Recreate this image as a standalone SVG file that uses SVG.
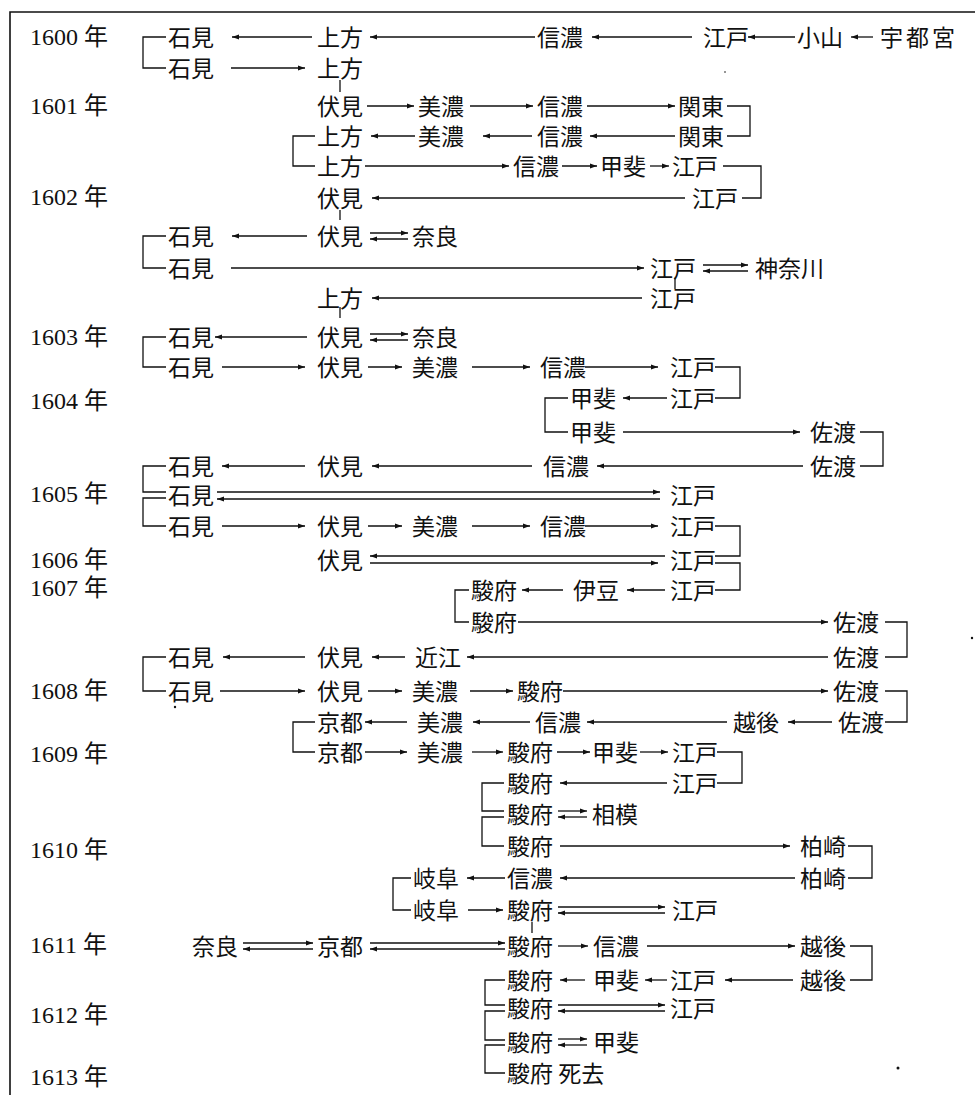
<svg xmlns="http://www.w3.org/2000/svg" width="975" height="1095" viewBox="0 0 975 1095">
<style>
text{font-family:"Noto Sans CJK JP",sans-serif;font-size:23px;fill:#111}
.y text{font-family:"Liberation Serif","Noto Sans CJK JP",serif;font-size:24px}
.c line,.c path{stroke:#111;stroke-width:1.3;fill:none}
.c .a{marker-end:url(#h)}
</style>
<defs><marker id="h" markerUnits="userSpaceOnUse" markerWidth="8" markerHeight="6" refX="7" refY="3" orient="auto"><path d="M0,0.6 L7,3 L0,5.4z" fill="#111"/></marker></defs>
<rect width="975" height="1095" fill="#fff"/>
<path d="M10,1095 V12 H975" stroke="#111" stroke-width="1.6" fill="none"/>
<g class="y" id="years">
<text x="30" y="45">1600 年</text><text x="30" y="114">1601 年</text><text x="30" y="205">1602 年</text><text x="30" y="345">1603 年</text><text x="30" y="409">1604 年</text><text x="30" y="502">1605 年</text><text x="30" y="568">1606 年</text><text x="30" y="596">1607 年</text><text x="30" y="699">1608 年</text><text x="30" y="762">1609 年</text><text x="30" y="858">1610 年</text><text x="30" y="953">1611 年</text><text x="30" y="1023">1612 年</text><text x="30" y="1085">1613 年</text>
</g>
<g id="nodes">
<g id="n1a"><text x="168" y="46">石見</text></g><g id="n1b"><text x="317" y="46">上方</text></g><g id="n1c"><text x="537" y="46">信濃</text></g><g id="n1d"><text x="703" y="46">江戸</text></g><g id="n1e"><text x="797" y="46">小山</text></g><g id="n1f"><text x="880" y="46" letter-spacing="3">宇都宮</text></g>
<g id="n2a"><text x="168" y="77">石見</text></g><g id="n2b"><text x="317" y="77">上方</text></g>
<g id="n3a"><text x="317" y="115">伏見</text></g><g id="n3b"><text x="418" y="115">美濃</text></g><g id="n3c"><text x="537" y="115">信濃</text></g><g id="n3d"><text x="678" y="115">関東</text></g>
<g id="n4a"><text x="317" y="145">上方</text></g><g id="n4b"><text x="418" y="145">美濃</text></g><g id="n4c"><text x="537" y="145">信濃</text></g><g id="n4d"><text x="678" y="145">関東</text></g>
<g id="n5a"><text x="317" y="175">上方</text></g><g id="n5b"><text x="513" y="175">信濃</text></g><g id="n5c"><text x="600" y="175">甲斐</text></g><g id="n5d"><text x="672" y="175">江戸</text></g>
<g id="n6a"><text x="317" y="207">伏見</text></g><g id="n6b"><text x="692" y="207">江戸</text></g>
<g id="n7a"><text x="168" y="245">石見</text></g><g id="n7b"><text x="317" y="245">伏見</text></g><g id="n7c"><text x="412" y="245">奈良</text></g>
<g id="n8a"><text x="168" y="277">石見</text></g><g id="n8b"><text x="650" y="277">江戸</text></g><g id="n8c"><text x="755" y="277">神奈川</text></g>
<g id="n9a"><text x="317" y="307">上方</text></g><g id="n9b"><text x="650" y="307">江戸</text></g>
<g id="n10a"><text x="168" y="346">石見</text></g><g id="n10b"><text x="317" y="346">伏見</text></g><g id="n10c"><text x="412" y="346">奈良</text></g>
<g id="n11a"><text x="168" y="376">石見</text></g><g id="n11b"><text x="317" y="376">伏見</text></g><g id="n11c"><text x="412" y="376">美濃</text></g><g id="n11d"><text x="540" y="376">信濃</text></g><g id="n11e"><text x="670" y="376">江戸</text></g>
<g id="n12a"><text x="570" y="407">甲斐</text></g><g id="n12b"><text x="670" y="407">江戸</text></g>
<g id="n13a"><text x="570" y="441">甲斐</text></g><g id="n13b"><text x="810" y="441">佐渡</text></g>
<g id="n14a"><text x="168" y="475">石見</text></g><g id="n14b"><text x="317" y="475">伏見</text></g><g id="n14c"><text x="543" y="475">信濃</text></g><g id="n14d"><text x="810" y="475">佐渡</text></g>
<g id="n15a"><text x="168" y="504">石見</text></g><g id="n15b"><text x="670" y="504">江戸</text></g>
<g id="n16a"><text x="168" y="535">石見</text></g><g id="n16b"><text x="317" y="535">伏見</text></g><g id="n16c"><text x="412" y="535">美濃</text></g><g id="n16d"><text x="540" y="535">信濃</text></g><g id="n16e"><text x="670" y="535">江戸</text></g>
<g id="n17a"><text x="317" y="569">伏見</text></g><g id="n17b"><text x="670" y="569">江戸</text></g>
<g id="n18a"><text x="471" y="599">駿府</text></g><g id="n18b"><text x="573" y="599">伊豆</text></g><g id="n18c"><text x="670" y="599">江戸</text></g>
<g id="n19a"><text x="471" y="631">駿府</text></g><g id="n19b"><text x="833" y="631">佐渡</text></g>
<g id="n20a"><text x="168" y="666">石見</text></g><g id="n20b"><text x="317" y="666">伏見</text></g><g id="n20c"><text x="415" y="666">近江</text></g><g id="n20d"><text x="833" y="666">佐渡</text></g>
<g id="n21a"><text x="168" y="700">石見</text></g><g id="n21b"><text x="317" y="700">伏見</text></g><g id="n21c"><text x="412" y="700">美濃</text></g><g id="n21d"><text x="517" y="700">駿府</text></g><g id="n21e"><text x="833" y="700">佐渡</text></g>
<g id="n22a"><text x="317" y="731">京都</text></g><g id="n22b"><text x="417" y="731">美濃</text></g><g id="n22c"><text x="535" y="731">信濃</text></g><g id="n22d"><text x="733" y="731">越後</text></g><g id="n22e"><text x="838" y="731">佐渡</text></g>
<g id="n23a"><text x="317" y="761">京都</text></g><g id="n23b"><text x="417" y="761">美濃</text></g><g id="n23c"><text x="507" y="761">駿府</text></g><g id="n23d"><text x="592" y="761">甲斐</text></g><g id="n23e"><text x="672" y="761">江戸</text></g>
<g id="n24a"><text x="507" y="792">駿府</text></g><g id="n24b"><text x="672" y="792">江戸</text></g>
<g id="n25a"><text x="507" y="823">駿府</text></g><g id="n25b"><text x="592" y="823">相模</text></g>
<g id="n26a"><text x="507" y="855">駿府</text></g><g id="n26b"><text x="800" y="855">柏崎</text></g>
<g id="n27a"><text x="413" y="887">岐阜</text></g><g id="n27b"><text x="507" y="887">信濃</text></g><g id="n27c"><text x="800" y="887">柏崎</text></g>
<g id="n28a"><text x="413" y="919">岐阜</text></g><g id="n28b"><text x="507" y="919">駿府</text></g><g id="n28c"><text x="672" y="919">江戸</text></g>
<g id="n29a"><text x="192" y="955">奈良</text></g><g id="n29b"><text x="317" y="955">京都</text></g><g id="n29c"><text x="507" y="955">駿府</text></g><g id="n29d"><text x="593" y="955">信濃</text></g><g id="n29e"><text x="800" y="955">越後</text></g>
<g id="n30a"><text x="507" y="989">駿府</text></g><g id="n30b"><text x="593" y="989">甲斐</text></g><g id="n30c"><text x="670" y="989">江戸</text></g><g id="n30d"><text x="800" y="989">越後</text></g>
<g id="n31a"><text x="507" y="1017">駿府</text></g><g id="n31b"><text x="670" y="1017">江戸</text></g>
<g id="n32a"><text x="507" y="1051">駿府</text></g><g id="n32b"><text x="593" y="1051">甲斐</text></g>
<g id="n33a"><text x="507" y="1082">駿府 死去</text></g>
</g>
<g class="c" id="connectors">
<line class="a" x1="312" y1="37" x2="232" y2="37"/><line class="a" x1="535" y1="37" x2="370" y2="37"/><line class="a" x1="692" y1="37" x2="592" y2="37"/><line class="a" x1="795" y1="37" x2="748" y2="37"/><line class="a" x1="873" y1="37" x2="851" y2="37"/>
<path d="M166,37 H143 V68 H166"/>
<line class="a" x1="231" y1="68" x2="305" y2="68"/>
<path d="M340,80 V92"/>
<line class="a" x1="367" y1="106" x2="414" y2="106"/><line class="a" x1="470" y1="106" x2="533" y2="106"/><line class="a" x1="587" y1="106" x2="675" y2="106"/>
<path d="M727,106 H750 V136 H727"/>
<line class="a" x1="415" y1="136" x2="371" y2="136"/><line class="a" x1="532" y1="136" x2="483" y2="136"/><line class="a" x1="675" y1="136" x2="590" y2="136"/>
<path d="M315,136 H293 V166 H315"/>
<line class="a" x1="365" y1="166" x2="509" y2="166"/><line class="a" x1="562" y1="166" x2="597" y2="166"/><line class="a" x1="650" y1="166" x2="669" y2="166"/>
<path d="M723,166 H761 V198 H742"/>
<line class="a" x1="685" y1="198" x2="372" y2="198"/>
<path d="M340,210 V220"/>
<line class="a" x1="307" y1="236" x2="232" y2="236"/>
<line class="a" x1="370" y1="233" x2="408" y2="233"/><line class="a" x1="408" y1="239" x2="370" y2="239"/>
<path d="M166,236 H143 V268 H166"/>
<line class="a" x1="231" y1="268" x2="644" y2="268"/>
<line class="a" x1="703" y1="265" x2="748" y2="265"/><line class="a" x1="748" y1="271" x2="703" y2="271"/>
<path d="M675,278 V289"/>
<line class="a" x1="642" y1="298" x2="372" y2="298"/>
<path d="M340,307 V318"/>
<line class="a" x1="307" y1="337" x2="215" y2="337"/>
<line class="a" x1="370" y1="334" x2="408" y2="334"/><line class="a" x1="408" y1="340" x2="370" y2="340"/>
<path d="M166,337 H143 V367 H166"/>
<line class="a" x1="222" y1="367" x2="305" y2="367"/><line class="a" x1="368" y1="367" x2="402" y2="367"/><line class="a" x1="472" y1="367" x2="530" y2="367"/><line class="a" x1="585" y1="367" x2="658" y2="367"/>
<path d="M715,367 H740 V398 H715"/>
<line class="a" x1="667" y1="398" x2="623" y2="398"/>
<path d="M568,398 H545 V432 H568"/>
<line class="a" x1="623" y1="432" x2="800" y2="432"/>
<path d="M860,432 H883 V466 H860"/>
<line class="a" x1="305" y1="466" x2="222" y2="466"/><line class="a" x1="532" y1="466" x2="372" y2="466"/><line class="a" x1="803" y1="466" x2="597" y2="466"/>
<path d="M166,466 H143 V492 H166"/>
<line class="a" x1="217" y1="492" x2="660" y2="492"/><line class="a" x1="660" y1="499" x2="217" y2="499"/>
<path d="M166,498 H143 V526 H166"/>
<line class="a" x1="222" y1="526" x2="305" y2="526"/><line class="a" x1="368" y1="526" x2="402" y2="526"/><line class="a" x1="472" y1="526" x2="530" y2="526"/><line class="a" x1="585" y1="526" x2="658" y2="526"/>
<path d="M715,526 H740 V556 H715"/>
<line class="a" x1="665" y1="556" x2="370" y2="556"/><line class="a" x1="370" y1="563" x2="658" y2="563"/>
<path d="M715,563 H740 V590 H715"/>
<line class="a" x1="563" y1="590" x2="522" y2="590"/><line class="a" x1="665" y1="590" x2="627" y2="590"/>
<path d="M469,590 H455 V622 H469"/>
<line class="a" x1="518" y1="622" x2="828" y2="622"/>
<path d="M885,622 H907 V657 H885"/>
<line class="a" x1="305" y1="657" x2="223" y2="657"/><line class="a" x1="405" y1="657" x2="372" y2="657"/><line class="a" x1="828" y1="657" x2="467" y2="657"/>
<path d="M166,657 H143 V691 H166"/>
<line class="a" x1="220" y1="691" x2="305" y2="691"/><line class="a" x1="368" y1="691" x2="402" y2="691"/><line class="a" x1="470" y1="691" x2="513" y2="691"/><line class="a" x1="563" y1="691" x2="828" y2="691"/>
<path d="M885,691 H907 V722 H885"/>
<line class="a" x1="407" y1="722" x2="365" y2="722"/><line class="a" x1="530" y1="722" x2="473" y2="722"/><line class="a" x1="727" y1="722" x2="587" y2="722"/><line class="a" x1="832" y1="722" x2="788" y2="722"/>
<path d="M315,722 H293 V752 H315"/>
<line class="a" x1="365" y1="752" x2="407" y2="752"/><line class="a" x1="472" y1="752" x2="503" y2="752"/><line class="a" x1="557" y1="752" x2="590" y2="752"/><line class="a" x1="640" y1="752" x2="668" y2="752"/>
<path d="M717,752 H742 V783 H717"/>
<line class="a" x1="667" y1="783" x2="560" y2="783"/>
<path d="M504,783 H482 V811 H504"/><path d="M504,817 H482 V846 H504"/>
<line class="a" x1="558" y1="811" x2="587" y2="811"/><line class="a" x1="587" y1="817" x2="558" y2="817"/>
<line class="a" x1="560" y1="846" x2="790" y2="846"/>
<path d="M848,846 H872 V878 H848"/>
<line class="a" x1="505" y1="878" x2="467" y2="878"/><line class="a" x1="795" y1="878" x2="560" y2="878"/>
<path d="M411,878 H393 V910 H411"/>
<line class="a" x1="468" y1="910" x2="503" y2="910"/>
<line class="a" x1="558" y1="907" x2="665" y2="907"/><line class="a" x1="665" y1="913" x2="558" y2="913"/>
<path d="M532,922 V933"/>
<line class="a" x1="243" y1="943" x2="313" y2="943"/><line class="a" x1="313" y1="949" x2="243" y2="949"/>
<line class="a" x1="370" y1="943" x2="505" y2="943"/><line class="a" x1="505" y1="949" x2="370" y2="949"/>
<line class="a" x1="558" y1="946" x2="588" y2="946"/><line class="a" x1="647" y1="946" x2="795" y2="946"/>
<path d="M850,946 H872 V980 H850"/>
<line class="a" x1="585" y1="980" x2="560" y2="980"/><line class="a" x1="667" y1="980" x2="645" y2="980"/><line class="a" x1="793" y1="980" x2="725" y2="980"/>
<path d="M505,980 H485 V1005 H505"/><path d="M505,1011 H485 V1040 H505"/><path d="M505,1045 H485 V1073 H505"/>
<line class="a" x1="558" y1="1005" x2="665" y2="1005"/><line class="a" x1="665" y1="1011" x2="558" y2="1011"/>
<line class="a" x1="558" y1="1039" x2="587" y2="1039"/><line class="a" x1="587" y1="1045" x2="558" y2="1045"/>
</g>
<g id="specks" fill="#111"><circle cx="725" cy="72" r="0.8"/><circle cx="175" cy="707" r="1.2"/><circle cx="972" cy="638" r="1.2"/><circle cx="898" cy="1068" r="1.5"/></g>
</svg>
